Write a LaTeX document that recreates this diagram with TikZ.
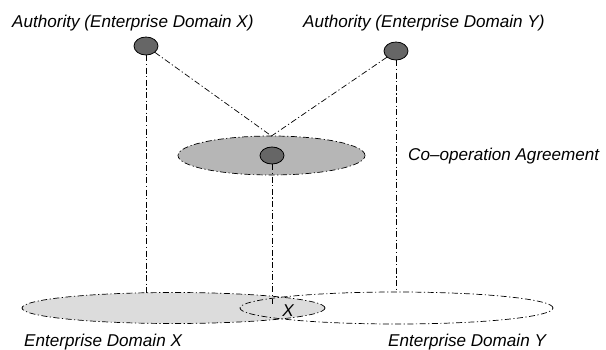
\documentclass[tikz,border=0pt]{standalone}
\usepackage{fontspec}
\setmainfont{Liberation Sans}
\usetikzlibrary{shapes.geometric}
\definecolor{dotgray}{HTML}{666666}
\definecolor{agreegray}{HTML}{B6B6B6}
\definecolor{domaingray}{HTML}{DCDCDC}
\tikzset{
  dashdot/.style={line width=0.7pt, dash pattern=on 6pt off 2.5pt on 1.2pt off 2.5pt},
  authdot/.style={ellipse, draw=black, line width=0.8pt, fill=dotgray,
    minimum width=24pt, minimum height=18pt, inner sep=0pt},
  region/.style={ellipse, dashdot, inner sep=0pt},
  lbl/.style={font=\fontsize{17.1}{20}\selectfont\itshape, inner sep=0pt, anchor=base west}
}
\begin{document}
\begin{tikzpicture}[x=1pt, y=-1pt]
  \useasboundingbox (0,0) rectangle (606,349);

  % enterprise domains
  \node[region, draw, fill=domaingray, minimum width=303pt, minimum height=31pt] (domX) at (173.5,308) {};
  \node[region, draw, minimum width=313pt, minimum height=32pt] (domY) at (396.5,308) {};

  % co-operation agreement
  \node[region, draw, fill=agreegray, minimum width=187pt, minimum height=39pt] (agree) at (271.5,155.5) {};

  % authorities
  \node[authdot] (authX) at (146,46) {};
  \node[authdot] (authY) at (396,51) {};
  \node[authdot, minimum height=17pt] (authM) at (272,155.5) {};

  \coordinate (meet) at (271.5,136);
  \coordinate (xend) at (272,304);

  % connectors
  \draw[dashdot] (authX.south) -- (authX.south |- 0,293);
  \draw[dashdot] (authY.south) -- (authY.south |- 0,292);
  \draw[dashdot] (authX) -- (meet);
  \draw[dashdot] (authY) -- (meet);
  \draw[dashdot] (authM.south) -- (xend);

  % labels
  \node[lbl] (tAX) at (12,27) {Authority (Enterprise Domain X)};
  \node[lbl] (tAY) at (303,27) {Authority (Enterprise Domain Y)};
  \node[lbl] (tCo) at (408,160.5) {Co–operation Agreement};
  \node[lbl] (tEX) at (24,346.5) {Enterprise Domain X};
  \node[lbl] (tEY) at (388,346.5) {Enterprise Domain Y};
  \node[lbl, anchor=center] (tX) at (288,311) {X};
\end{tikzpicture}
\end{document}
